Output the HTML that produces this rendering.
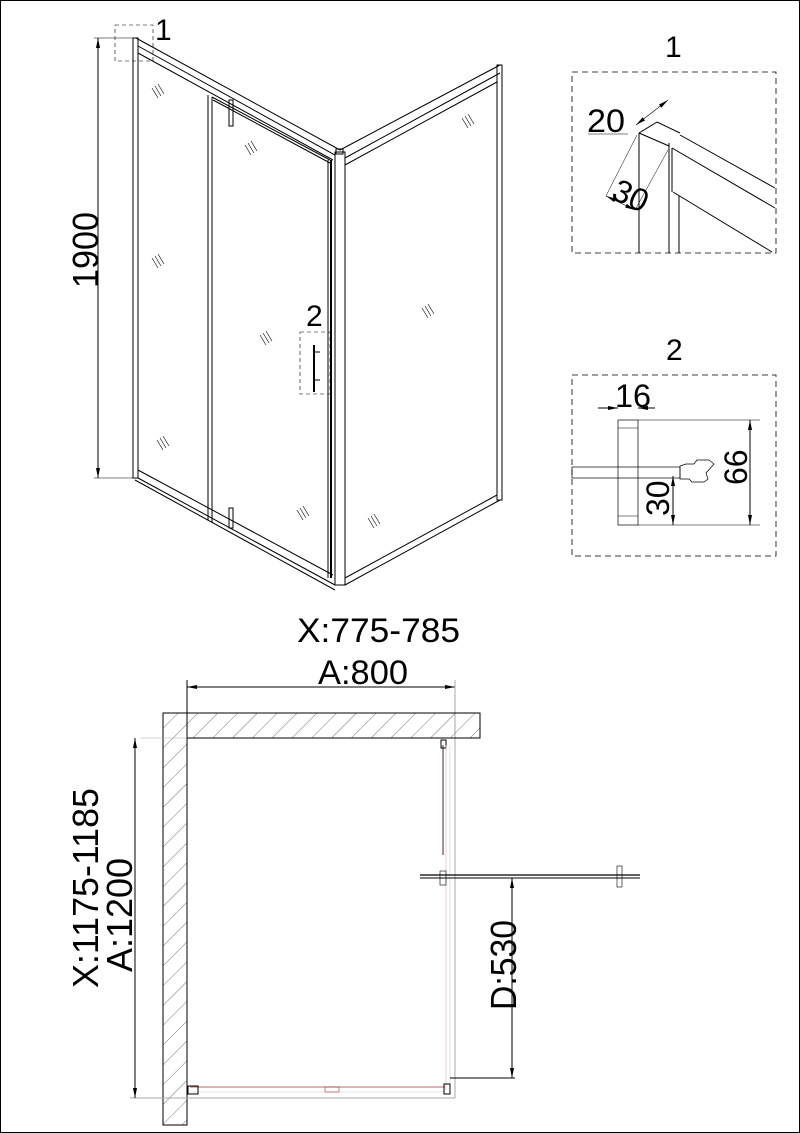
<!DOCTYPE html>
<html><head><meta charset="utf-8"><style>
html,body{margin:0;padding:0;background:#fff;width:800px;height:1133px;overflow:hidden}
svg{display:block}
text{font-family:"Liberation Sans",sans-serif;fill:#000}
</style></head><body>
<svg width="800" height="1133" viewBox="0 0 800 1133" xmlns="http://www.w3.org/2000/svg">
<defs>
<pattern id="h" patternUnits="userSpaceOnUse" width="14" height="14" patternTransform="rotate(45)">
<line x1="0" y1="0" x2="0" y2="14" stroke="#555" stroke-width="0.8"/>
</pattern>
<marker id="a" markerWidth="10" markerHeight="6" refX="10" refY="3" orient="auto-start-reverse" markerUnits="userSpaceOnUse">
<path d="M0,1 L10,3 L0,5 z" fill="#000"/></marker>
</defs>
<rect x="0.5" y="0.5" width="799" height="1132" fill="none" stroke="#000" stroke-width="1"/>

<g stroke="#000" fill="none" stroke-width="1">
<line x1="98" y1="38" x2="98" y2="478" marker-start="url(#a)" marker-end="url(#a)"/>
<line x1="94" y1="38" x2="133" y2="38" stroke-width="0.6"/>
<line x1="94" y1="478" x2="133" y2="478" stroke-width="0.6"/>
<rect x="133" y="38" width="5" height="440"/>
<line x1="136" y1="38" x2="340" y2="150"/>
<line x1="138" y1="46" x2="335" y2="155"/>
<line x1="138" y1="53" x2="333" y2="160"/>
<line x1="340" y1="150" x2="500" y2="65"/>
<line x1="345" y1="158" x2="500" y2="73"/>
<line x1="345" y1="165" x2="497" y2="82"/>
<rect x="335" y="152" width="10" height="433"/>
<rect x="336" y="149" width="7" height="5"/>
<rect x="497" y="65" width="5" height="435"/>
<line x1="138" y1="470" x2="333" y2="575"/>
<line x1="138" y1="478" x2="335" y2="585"/>
<line x1="135" y1="480" x2="335" y2="590"/>
<line x1="345" y1="585" x2="500" y2="500"/>
<line x1="345" y1="578" x2="497" y2="495"/>
<line x1="208" y1="95" x2="208" y2="520"/>
<line x1="212" y1="97" x2="212" y2="522"/>
<line x1="212" y1="97" x2="330" y2="160"/>
<line x1="213" y1="100" x2="330" y2="163"/>
<rect x="229" y="100" width="4" height="26"/>
<rect x="229" y="508" width="4" height="20"/>
<line x1="328" y1="160" x2="328" y2="578"/>
<line x1="331" y1="160" x2="331" y2="578" stroke-width="2"/>
<line x1="314" y1="345" x2="314" y2="392" stroke-width="2"/>
<line x1="314" y1="352" x2="320" y2="352"/><line x1="314" y1="380" x2="320" y2="380"/>
<rect x="300" y="332" width="30" height="62" stroke-dasharray="4,3" stroke-width="0.6"/>
<rect x="115" y="25" width="38" height="36" stroke-dasharray="4,3" stroke-width="0.6"/>
<g stroke-width="0.6">
<path d="M152,88 l6,10 M155,86 l6,10 M158,84 l6,10"/>
<path d="M152,258 l6,10 M155,256 l6,10 M158,254 l6,10"/>
<path d="M157,440 l6,10 M160,438 l6,10 M163,436 l6,10"/>
<path d="M245,145 l6,10 M248,143 l6,10 M251,141 l6,10"/>
<path d="M260,335 l6,10 M263,333 l6,10 M266,331 l6,10"/>
<path d="M297,510 l6,10 M300,508 l6,10 M303,506 l6,10"/>
<path d="M462,118 l6,10 M465,116 l6,10 M468,114 l6,10"/>
<path d="M422,308 l6,10 M425,306 l6,10 M428,304 l6,10"/>
<path d="M368,518 l6,10 M371,516 l6,10 M374,514 l6,10"/>
</g>
</g>
<text x="0" y="0" font-size="36" textLength="76" lengthAdjust="spacingAndGlyphs" transform="translate(98,288) rotate(-90)">1900</text>
<text x="155" y="40" font-size="30">1</text>
<text x="306" y="326" font-size="30">2</text>

<text x="665" y="57" font-size="30">1</text>
<g stroke="#000" fill="none" stroke-width="1">
<rect x="572" y="72" width="204" height="181" stroke-dasharray="6,4" stroke-width="0.8"/>
<line x1="639" y1="133" x2="639" y2="253"/>
<line x1="669" y1="143" x2="669" y2="253"/>
<line x1="679" y1="196" x2="679" y2="253"/>
<line x1="639" y1="133" x2="657" y2="122"/>
<line x1="657" y1="122" x2="680" y2="133"/>
<line x1="639" y1="133" x2="669" y2="146"/>
<line x1="680" y1="135" x2="775" y2="188"/>
<line x1="672" y1="148" x2="775" y2="208"/>
<line x1="673" y1="192" x2="772" y2="252"/>
<line x1="672" y1="148" x2="672" y2="192"/>
<line x1="636" y1="125" x2="668" y2="100" stroke-width="0.6" marker-start="url(#a)" marker-end="url(#a)"/>
<line x1="588" y1="134" x2="628" y2="134" stroke-width="0.5"/>
<line x1="606" y1="196" x2="635" y2="210" stroke-width="0.6" marker-start="url(#a)" marker-end="url(#a)"/>
<line x1="606" y1="196" x2="637" y2="135" stroke-width="0.5"/>
<line x1="635" y1="210" x2="668" y2="150" stroke-width="0.5"/>
</g>
<text x="587" y="132" font-size="32" textLength="38" lengthAdjust="spacingAndGlyphs">20</text>
<text x="0" y="0" font-size="32" transform="translate(610,198) rotate(25)">30</text>

<text x="666" y="360" font-size="30">2</text>
<g stroke="#000" fill="none" stroke-width="1">
<rect x="572" y="375" width="204" height="181" stroke-dasharray="6,4" stroke-width="0.8"/>
<rect x="618" y="420" width="20" height="105" stroke-width="0.7"/>
<line x1="618" y1="428" x2="638" y2="428" stroke-width="0.5"/>
<line x1="618" y1="516" x2="638" y2="516" stroke-width="0.5"/>
<rect x="572" y="467" width="108" height="11" stroke-width="0.7"/>
<path d="M680,466 l6,-2 h8 l3,-4 h12 l5,4 l-8,9 l2,6 l-4,3 h-12 l-3,-3 h-9 z" stroke-width="0.7"/>
<line x1="638" y1="420" x2="760" y2="420" stroke-width="0.6"/>
<line x1="638" y1="525" x2="760" y2="525" stroke-width="0.6"/>
<line x1="750" y1="420" x2="750" y2="525" marker-start="url(#a)" marker-end="url(#a)"/>
<line x1="673" y1="476" x2="673" y2="525" marker-start="url(#a)" marker-end="url(#a)"/>
<line x1="598" y1="408" x2="618" y2="408" marker-end="url(#a)"/>
<line x1="655" y1="408" x2="638" y2="408" marker-end="url(#a)"/>
</g>
<text x="615" y="407" font-size="32" textLength="36" lengthAdjust="spacingAndGlyphs">16</text>
<text x="0" y="0" font-size="32" transform="translate(747,485) rotate(-90)">66</text>
<text x="0" y="0" font-size="32" transform="translate(669,516) rotate(-90)">30</text>

<text x="297" y="642" font-size="34" textLength="163" lengthAdjust="spacingAndGlyphs">X:775-785</text>
<text x="318" y="684" font-size="34" textLength="90" lengthAdjust="spacingAndGlyphs">A:800</text>
<g stroke="#000" fill="none" stroke-width="1">
<line x1="187" y1="687" x2="455" y2="687" marker-start="url(#a)" marker-end="url(#a)"/>
<line x1="187" y1="680" x2="187" y2="1125"/>
<line x1="455" y1="680" x2="455" y2="1098" stroke="#aaa"/>
<rect x="163" y="713" width="24" height="412" fill="url(#h)"/>
<rect x="187" y="713" width="293" height="25" fill="url(#h)"/>
<line x1="140" y1="738" x2="187" y2="738" stroke="#aaa" stroke-width="0.6"/>
<line x1="130" y1="1098" x2="455" y2="1098" stroke="#aaa"/>
<line x1="135" y1="738" x2="135" y2="1098" marker-start="url(#a)" marker-end="url(#a)"/>
<line x1="443" y1="745" x2="443" y2="855" stroke="#333"/>
<rect x="441" y="740" width="5" height="8"/>
<line x1="446" y1="745" x2="446" y2="1090" stroke="#e0b0b0" stroke-width="0.6"/>
<line x1="450" y1="745" x2="450" y2="1090" stroke="#ccc" stroke-width="0.6"/>
<line x1="190" y1="1087" x2="445" y2="1087" stroke="#a33" stroke-width="0.8"/>
<line x1="190" y1="1092" x2="445" y2="1092" stroke="#ccc" stroke-width="0.6"/>
<rect x="188" y="1086" width="10" height="8"/>
<rect x="444" y="1084" width="6" height="10"/>
<rect x="325" y="1087" width="14" height="5" stroke="#a33" stroke-width="0.6"/>
<line x1="420" y1="875" x2="640" y2="875" stroke-width="1.2"/>
<line x1="420" y1="878" x2="640" y2="878" stroke-width="1"/>
<rect x="440" y="871" width="6" height="14" stroke-width="0.6"/>
<rect x="617" y="866" width="5" height="21" stroke-width="0.6"/>
<line x1="512" y1="878" x2="512" y2="1078" marker-start="url(#a)" marker-end="url(#a)"/>
<line x1="450" y1="1078" x2="515" y2="1078"/>
</g>
<text x="0" y="0" font-size="36" textLength="200" lengthAdjust="spacingAndGlyphs" transform="translate(98,988) rotate(-90)">X:1175-1185</text>
<text x="0" y="0" font-size="36" textLength="114" lengthAdjust="spacingAndGlyphs" transform="translate(132,972) rotate(-90)">A:1200</text>
<text x="0" y="0" font-size="36" textLength="90" lengthAdjust="spacingAndGlyphs" transform="translate(516,1010) rotate(-90)">D:530</text>
</svg>
</body></html>
